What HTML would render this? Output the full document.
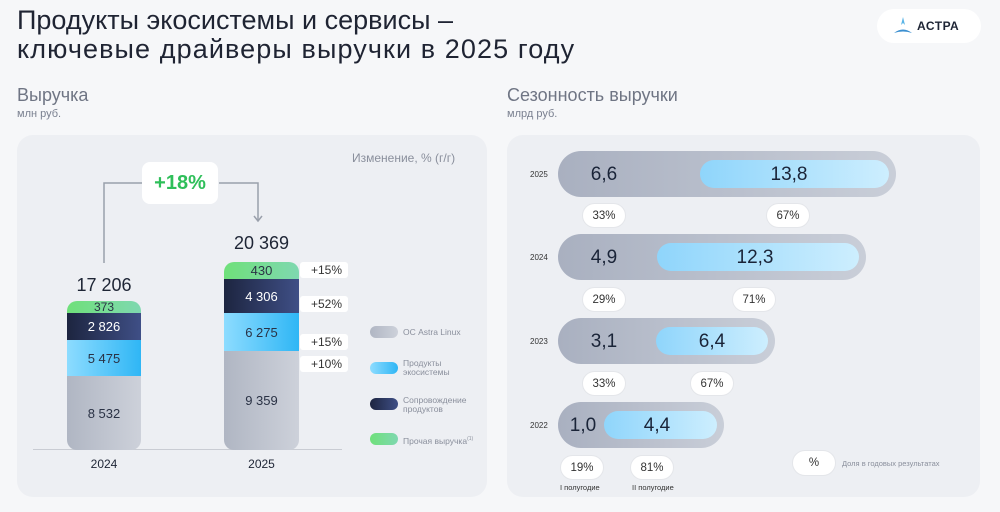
<!DOCTYPE html>
<html><head><meta charset="utf-8"><style>
*{margin:0;padding:0;box-sizing:border-box}
body{width:1000px;height:512px;background:#f6f7f9;font-family:"Liberation Sans","DejaVu Sans",sans-serif;position:relative;overflow:hidden;color:#1e2535}
.a{position:absolute}
.t{position:absolute;white-space:nowrap}
.panel{position:absolute;background:#edeff3;border-radius:16px}
.seg{position:absolute;display:flex;align-items:center;justify-content:center;font-size:13px;color:#2a3245}
.pct{position:absolute;background:#fff;font-size:12px;color:#333;display:flex;align-items:center;justify-content:flex-end;padding-right:6px;border-radius:3px}
.pill{position:absolute;background:#fff;border-radius:13px;font-size:11.5px;color:#333;display:flex;align-items:center;justify-content:center;border:1px solid #e4e6ea}
.outer{position:absolute;height:46px;border-radius:23px;background:linear-gradient(90deg,#a9b0c0,#c9ced8)}
.inner{position:absolute;height:28px;border-radius:14px;background:linear-gradient(90deg,#8fd5fb,#cdeefe)}
.val{position:absolute;font-size:19px;color:#1a2438;transform:translateX(-50%)}
.yr{position:absolute;font-size:8px;color:#333;left:530px}
.sw{position:absolute;left:370px;width:28px;height:12px;border-radius:6px}
.lg{position:absolute;left:403px;font-size:8.5px;color:#8a8f9c;line-height:9px}
</style></head><body>
<div class="t" style="left:17px;top:6px;font-size:27px;line-height:29px;color:#1f2433">Продукты экосистемы и сервисы –</div>
<div class="t" style="left:17px;top:35px;font-size:27px;line-height:29px;color:#1f2433;letter-spacing:1.1px">ключевые драйверы выручки в 2025 году</div>
<div class="a" style="left:877px;top:9px;width:104px;height:34px;background:#fff;border-radius:17px"></div>
<svg class="a" style="left:893px;top:16px" width="20" height="20" viewBox="0 0 20 20"><path d="M10 1 L12 9 L10 7 L8 9Z" fill="#5ab4e6"/><path d="M1 17 Q10 10 19 17 Q10 14 1 17Z" fill="#3b8fd0"/></svg>
<div class="t" style="left:917px;top:19px;font-size:12px;font-weight:bold;color:#1e2535;letter-spacing:0.5px">АСТРА</div>

<div class="t" style="left:17px;top:85px;font-size:18px;color:#6f7584">Выручка</div>
<div class="t" style="left:17px;top:108px;font-size:11px;color:#7a8090">млн руб.</div>
<div class="t" style="left:507px;top:85px;font-size:18px;color:#6f7584">Сезонность выручки</div>
<div class="t" style="left:507px;top:108px;font-size:11px;color:#7a8090">млрд руб.</div>

<div class="panel" style="left:17px;top:135px;width:470px;height:362px"></div>
<div class="panel" style="left:507px;top:135px;width:473px;height:362px"></div>

<div class="t" style="left:352px;top:151px;font-size:12px;color:#8a8f9c">Изменение, % (г/г)</div>
<svg class="a" style="left:0;top:0" width="490" height="512">
<path d="M104 263 V183 H142 M219 183 H258 V220" stroke="#9aa0ab" stroke-width="1.5" fill="none"/>
<path d="M254 216 L258 221 L262 216" stroke="#9aa0ab" stroke-width="1.5" fill="none"/>
<line x1="33" y1="449.5" x2="342" y2="449.5" stroke="#c9ccd3"/>
</svg>
<div class="a" style="left:142px;top:162px;width:76px;height:42px;background:#fff;border-radius:8px;display:flex;align-items:center;justify-content:center;font-size:20px;font-weight:bold;color:#2fbf5a">+18%</div>

<div class="t" style="left:67px;top:275px;width:74px;text-align:center;font-size:18px">17 206</div>
<div class="a" style="left:67px;top:301px;width:74px;height:149px;border-radius:10px;overflow:hidden">
<div class="seg" style="top:0;left:0;right:0;height:12px;background:linear-gradient(90deg,#6fe07a,#7fd8b0);font-size:12px">373</div>
<div class="seg" style="top:12px;left:0;right:0;height:27px;background:linear-gradient(90deg,#1d2540,#3f4f86);color:#fff">2 826</div>
<div class="seg" style="top:39px;left:0;right:0;height:36px;background:linear-gradient(90deg,#8ddcff,#2fb6f5)">5 475</div>
<div class="seg" style="top:75px;left:0;right:0;height:74px;background:linear-gradient(90deg,#b0b6c3,#cdd1da)">8 532</div>
</div>
<div class="t" style="left:224px;top:233px;width:75px;text-align:center;font-size:18px">20 369</div>
<div class="a" style="left:224px;top:262px;width:75px;height:188px;border-radius:10px;overflow:hidden">
<div class="seg" style="top:0;left:0;right:0;height:17px;background:linear-gradient(90deg,#6fe07a,#7fd8b0)">430</div>
<div class="seg" style="top:17px;left:0;right:0;height:34px;background:linear-gradient(90deg,#1d2540,#3f4f86);color:#fff">4 306</div>
<div class="seg" style="top:51px;left:0;right:0;height:38px;background:linear-gradient(90deg,#8ddcff,#2fb6f5)">6 275</div>
<div class="seg" style="top:89px;left:0;right:0;height:99px;background:linear-gradient(90deg,#b0b6c3,#cdd1da)">9 359</div>
</div>
<div class="pct" style="left:300px;top:262px;width:48px;height:16px">+15%</div>
<div class="pct" style="left:300px;top:296px;width:48px;height:16px">+52%</div>
<div class="pct" style="left:300px;top:334px;width:48px;height:16px">+15%</div>
<div class="pct" style="left:300px;top:356px;width:48px;height:16px">+10%</div>
<div class="t" style="left:67px;top:457px;width:74px;text-align:center;font-size:12px">2024</div>
<div class="t" style="left:224px;top:457px;width:75px;text-align:center;font-size:12px">2025</div>

<div class="sw" style="top:326px;background:linear-gradient(90deg,#b0b6c3,#cdd1da)"></div><div class="lg" style="top:328px">ОС Astra Linux</div>
<div class="sw" style="top:362px;background:linear-gradient(90deg,#8ddcff,#2fb6f5)"></div><div class="lg" style="top:359px">Продукты<br>экосистемы</div>
<div class="sw" style="top:398px;background:linear-gradient(90deg,#1d2540,#3f4f86)"></div><div class="lg" style="top:396px">Сопровождение<br>продуктов</div>
<div class="sw" style="top:433px;background:linear-gradient(90deg,#6fe07a,#7fd8b0)"></div><div class="lg" style="top:435px">Прочая выручка<sup style="font-size:5px">(1)</sup></div>

<div class="yr" style="top:170px">2025</div>
<div class="outer" style="left:558px;top:151px;width:338px"></div><div class="inner" style="left:700px;top:160px;width:189px"></div>
<div class="val" style="left:604px;top:164px">6,6</div><div class="val" style="left:789px;top:164px">13,8</div>
<div class="pill" style="left:582px;top:203px;width:44px;height:25px">33%</div><div class="pill" style="left:766px;top:203px;width:44px;height:25px">67%</div>

<div class="yr" style="top:253px">2024</div>
<div class="outer" style="left:558px;top:234px;width:308px"></div><div class="inner" style="left:657px;top:243px;width:202px"></div>
<div class="val" style="left:604px;top:247px">4,9</div><div class="val" style="left:755px;top:247px">12,3</div>
<div class="pill" style="left:582px;top:287px;width:44px;height:25px">29%</div><div class="pill" style="left:732px;top:287px;width:44px;height:25px">71%</div>

<div class="yr" style="top:337px">2023</div>
<div class="outer" style="left:558px;top:318px;width:217px"></div><div class="inner" style="left:656px;top:327px;width:112px"></div>
<div class="val" style="left:604px;top:331px">3,1</div><div class="val" style="left:712px;top:331px">6,4</div>
<div class="pill" style="left:582px;top:371px;width:44px;height:25px">33%</div><div class="pill" style="left:690px;top:371px;width:44px;height:25px">67%</div>

<div class="yr" style="top:421px">2022</div>
<div class="outer" style="left:558px;top:402px;width:166px"></div><div class="inner" style="left:604px;top:411px;width:113px"></div>
<div class="val" style="left:583px;top:415px">1,0</div><div class="val" style="left:657px;top:415px">4,4</div>
<div class="pill" style="left:560px;top:455px;width:44px;height:25px">19%</div><div class="pill" style="left:630px;top:455px;width:44px;height:25px">81%</div>
<div class="t" style="left:560px;top:483px;font-size:7.5px;color:#333">I полугодие</div>
<div class="t" style="left:632px;top:483px;font-size:7.5px;color:#333">II полугодие</div>
<div class="pill" style="left:792px;top:450px;width:44px;height:26px">%</div>
<div class="t" style="left:842px;top:459px;font-size:7.5px;color:#8a8f9c">Доля в годовых результатах</div>
</body></html>
